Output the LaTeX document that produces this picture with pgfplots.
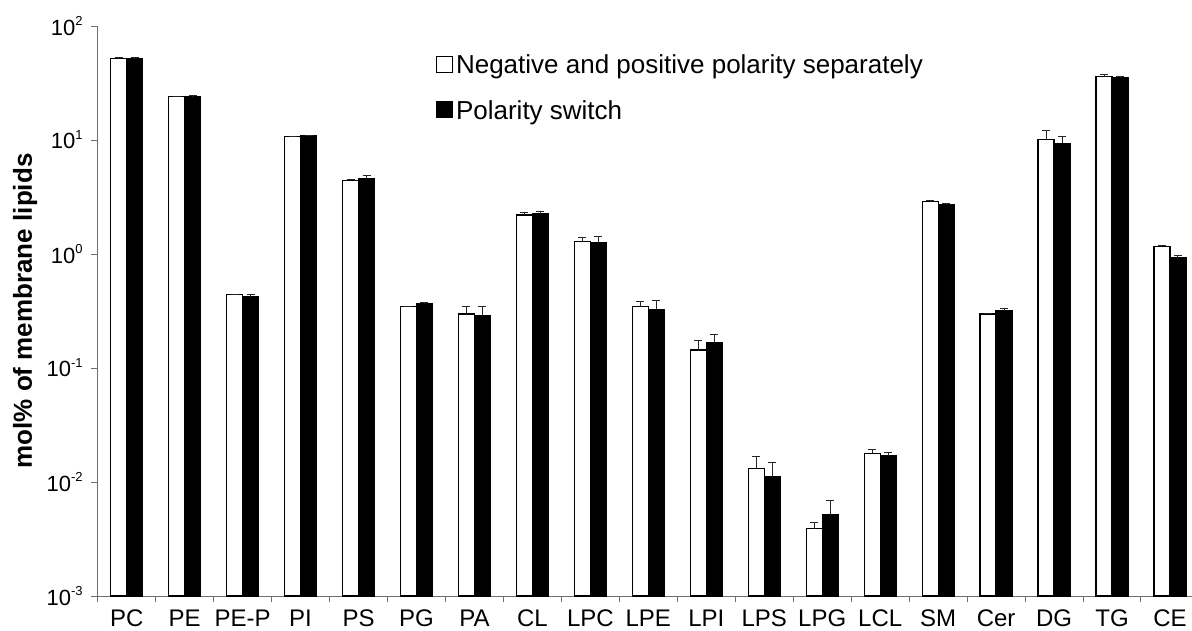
\documentclass[border=0pt]{standalone}
\usepackage{fontspec}
\setmainfont{Liberation Sans}
\usepackage{pgfplots}
\pgfplotsset{compat=1.18}
\usepackage{pgfplotstable}
\definecolor{axgray}{RGB}{110,110,110}
\newcommand{\sexp}[1]{10\raisebox{0.42em}{\fontsize{13}{13}\selectfont #1}}

\pgfplotstableread{
x a aerr b berr
0 52 0.5 52 0.5
1 24 0.3 24.2 0.3
2 0.44 0.005 0.42 0.02
3 10.7 0.1 10.9 0.1
4 4.43 0.08 4.61 0.25
5 0.345 0.004 0.369 0.004
6 0.298 0.047 0.29 0.055
7 2.20 0.12 2.26 0.11
8 1.29 0.10 1.27 0.16
9 0.345 0.037 0.327 0.067
10 0.144 0.029 0.168 0.028
11 0.0132 0.0035 0.0111 0.0038
12 0.0039 0.00055 0.00514 0.0017
13 0.0179 0.0015 0.0170 0.0012
14 2.90 0.03 2.71 0.04
15 0.298 0.003 0.318 0.012
16 10.1 2.0 9.36 1.44
17 35.9 1.8 35.0 1.4
18 1.16 0.02 0.935 0.04
}\data

\begin{document}
\begin{tikzpicture}
\useasboundingbox (-97.7pt,-34pt) rectangle (1094.3pt,596pt);
\begin{axis}[
  at={(0,0)}, anchor=south west,
  scale only axis, width=1094.3pt, height=570pt,
  ymode=log, ymin=1e-3, ymax=1e2, log origin y=infty,
  xmin=-0.5, xmax=18.38,
  ybar=0pt, bar width=16pt,
  axis lines*=left,
  axis line style={draw=axgray, line width=1pt},
  tick align=outside,
  major tick length=6.5pt,
  tick style={draw=axgray, line width=1pt},
  xtick={-0.5,0.5,...,18.5},
  xticklabels={},
  extra x ticks={0,1,...,18},
  extra x tick labels={PC,PE,PE-P,PI,PS,PG,PA,CL,LPC,LPE,LPI,LPS,LPG,LCL,SM,Cer,DG,TG,CE},
  extra x tick style={major tick length=0pt},
  ytick={1e-3,1e-2,1e-1,1,10,100},
  yticklabels={\sexp{-3},\sexp{-2},\sexp{-1},\sexp{0},\sexp{1},\sexp{2}},
  yminorticks=false,
  x tick label style={font=\fontsize{24}{28}\selectfont, yshift=-10pt},
  y tick label style={font=\fontsize{22}{26}\selectfont, xshift=-5pt},
  ylabel={mol\% of membrane lipids},
  ylabel style={font=\fontsize{26}{30}\selectfont\bfseries, at={(axis description cs:-0.0664,0.5)}, anchor=center},
  legend style={at={(axis description cs:0.309,0.955)}, anchor=north west, draw=none, fill=none,
    font=\fontsize{26}{30}\selectfont, row sep=19pt, inner sep=0pt,
    nodes={inner sep=3pt},
    /tikz/every even column/.style={column sep=0pt}},
  legend cell align=left,
]
\addplot[fill=white, draw=black, line width=1.2pt,
  legend image code/.code={\draw[fill=white,draw=black,line width=1pt] (0pt,-7.5pt) rectangle (16pt,8.5pt);},
  error bars/.cd, y dir=plus, y explicit,
  error bar style={line width=1pt, draw=black!85},
  error mark options={rotate=90, mark size=4pt, line width=1pt, draw=black!85}]
  table[x=x, y=a, y error=aerr]{\data};
\addlegendentry{Negative and positive polarity separately}
\addplot[fill=black, draw=black, line width=1.2pt,
  legend image code/.code={\draw[fill=black,draw=black,line width=1pt] (0pt,-7.5pt) rectangle (16pt,8.5pt);},
  error bars/.cd, y dir=plus, y explicit,
  error bar style={line width=1pt, draw=black!85},
  error mark options={rotate=90, mark size=4pt, line width=1pt, draw=black!85}]
  table[x=x, y=b, y error=berr]{\data};
\addlegendentry{Polarity switch}
\end{axis}
\end{tikzpicture}
\end{document}
